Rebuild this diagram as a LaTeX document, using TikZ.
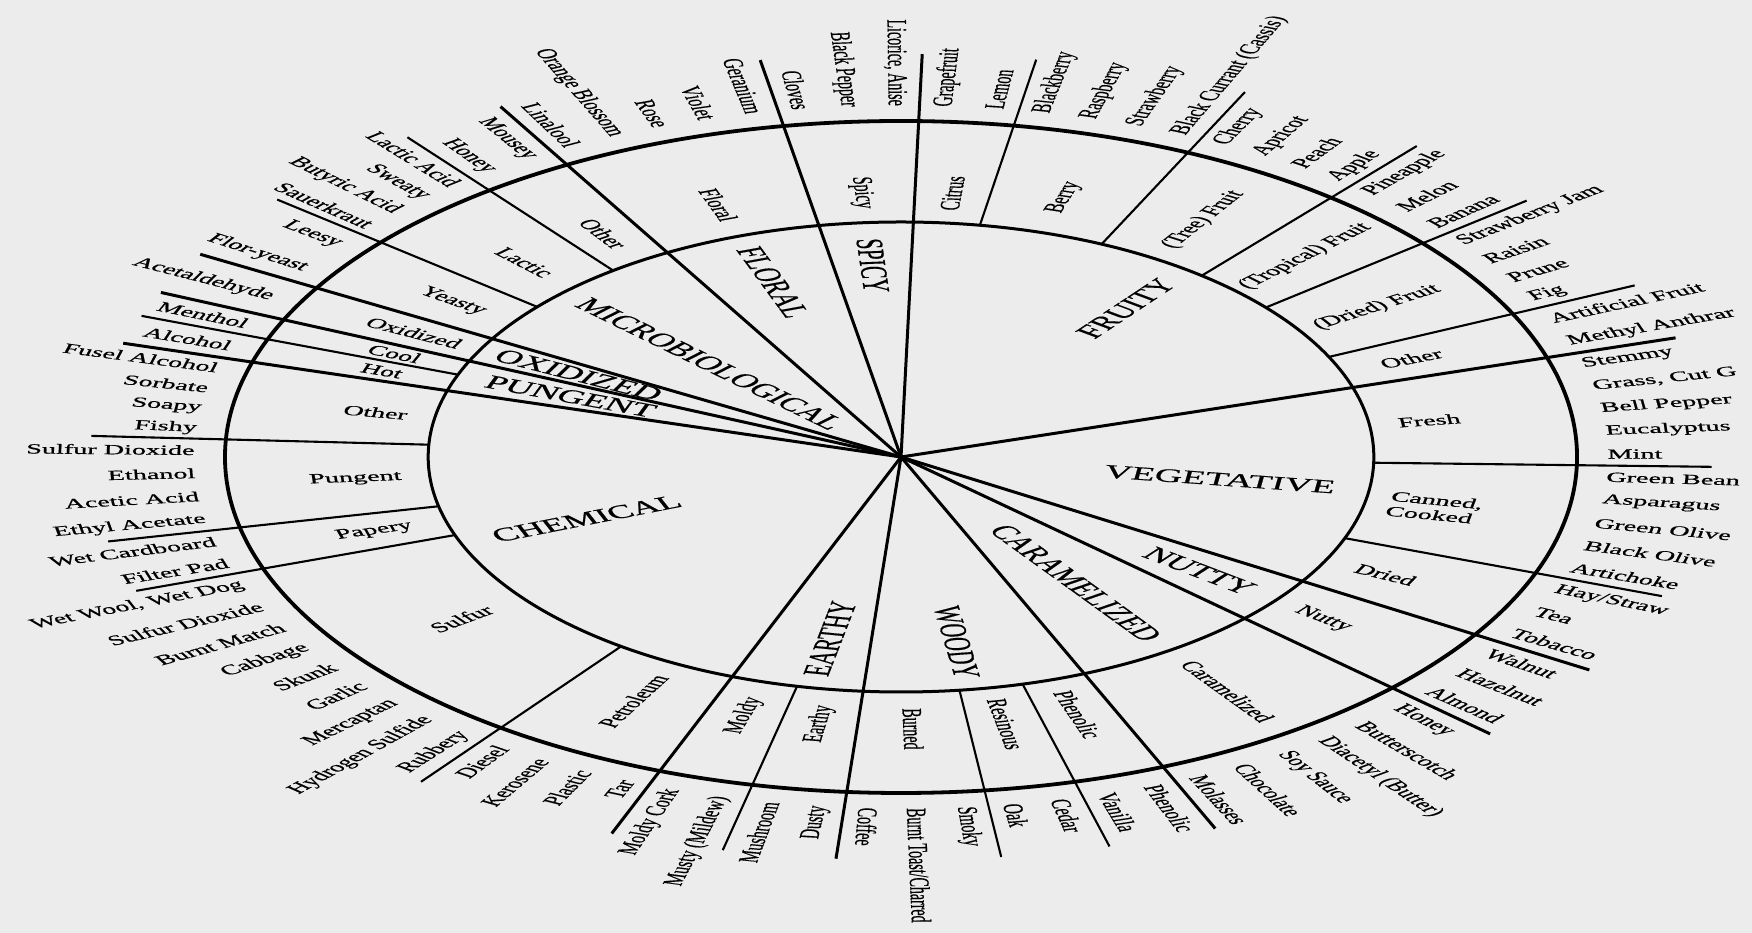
\documentclass[tikz,border=0pt]{standalone}
\usepackage{fontspec}
\setmainfont{Liberation Serif}[FakeBold=0.6]
\definecolor{bg}{RGB}{236,236,236}
\newcount\labc
\tikzset{
  olab/.style={inner sep=0pt, font=\fontsize{14}{15}\selectfont},
  mlab/.style={inner sep=0pt, font=\fontsize{14}{15}\selectfont, align=left},
  clab/.style={inner sep=0pt, font=\fontsize{19}{20}\selectfont},
  ring/.style={line width=3.8pt},
  midring/.style={line width=3pt},
  spoke/.style={line width=3pt},
  tierline/.style={line width=2.1pt}
}
\newcommand\outerset[3]{%
  \pgfmathsetmacro\secw{(#2)-(#1)}%
  \foreach \t [count=\i] in {#3} {\xdef\nlab{\i}}%
  \foreach \t [count=\i] in {#3} {%
    \global\advance\labc by 1
    \edef\nm{L\the\labc}%
    \pgfmathsetmacro\ang{#1+(\i-0.5)*\secw/\nlab}%
    \pgfmathtruncatemacro\inw{and(\ang>88.5,\ang<265.4)}%
    \ifnum\inw=1
      \node[olab,anchor=east,rotate=\ang+180] (\nm) at (\ang:351) {\t};
    \else
      \node[olab,anchor=west,rotate=\ang] (\nm) at (\ang:351) {\t};
    \fi
  }%
}
\newcommand\midlab[4]{%
  \global\advance\labc by 1
  \edef\nm{M\the\labc}%
  \pgfmathsetmacro\ang{((#1)+(#2))/2}%
  \pgfmathtruncatemacro\inw{and(\ang>88.5,\ang<265.4)}%
  \ifnum\inw=1
    \node[mlab,rotate=\ang+180] (\nm) at (\ang:#3) {#4};
  \else
    \node[mlab,rotate=\ang] (\nm) at (\ang:#3) {#4};
  \fi
}
\newcommand\catlab[3]{%
  \global\advance\labc by 1
  \edef\nm{C\the\labc}%
  \pgfmathsetmacro\ang{#1}%
  \pgfmathtruncatemacro\inw{and(\ang>88.5,\ang<265.4)}%
  \ifnum\inw=1
    \node[clab,rotate=\ang+180] (\nm) at (\ang:#2) {#3};
  \else
    \node[clab,rotate=\ang] (\nm) at (\ang:#2) {#3};
  \fi
}
\begin{document}
\begin{tikzpicture}[x=1pt,y=1pt]
\fill[bg] (0,0) rectangle (1752,933);
\useasboundingbox (0,0) rectangle (1752,933);
\begin{scope}[shift={(901,476)},xscale=2.012,transform shape]
  \coordinate (ctr) at (0,0);
  % rings
  \draw[ring] (ctr) circle (336);
  \draw[midring] (ctr) circle (235);
  % category spokes
  \foreach \a in {17.2,88.5,100,119.6,149.8,155.9,163.6,249.1,265.4,292.8,316.6,328.1}
    \draw[spoke] (ctr) -- (\a:403);
  % sub-category dividers
  \foreach \a in {25.2,39.5,50.5,64.9,80.4,127.5,140.3,159.5,177,192.1,199.4,233.7,257.3,277.1,284.9,339.8,358.6}
    \draw[tierline] (\a:235) -- (\a:403);
  % category labels
  \catlab{53}{186}{FRUITY}
  \catlab{-8}{160}{VEGETATIVE}
  \catlab{322.5}{187}{NUTTY}
  \catlab{304.6}{153}{CARAMELIZED}
  \catlab{278.5}{187}{WOODY}
  \catlab{259}{185}{EARTHY}
  \catlab{201.5}{168}{CHEMICAL}
  \catlab{159.75}{175}{PUNGENT}
  \catlab{152.85}{180}{OXIDIZED}
  \catlab{135.5}{133}{MICROBIOLOGICAL}
  \catlab{110}{186}{FLORAL}
  \catlab{94.2}{192}{SPICY}
  % second tier labels
  \midlab{17.2}{25.2}{272}{Other}
  \midlab{25.2}{39.5}{280}{(Dried) Fruit}
  \midlab{39.5}{50.5}{284}{(Tropical) Fruit}
  \midlab{50.5}{64.9}{281}{(Tree) Fruit}
  \midlab{64.9}{80.4}{272}{Berry}
  \midlab{80.4}{88.5}{265}{Citrus}
  \midlab{88.5}{100}{265}{Spicy}
  \midlab{100}{119.6}{268}{Floral}
  \midlab{119.6}{127.5}{268}{Other}
  \midlab{127.5}{140.3}{270}{Lactic}
  \midlab{140.3}{149.8}{272}{Yeasty}
  \midlab{149.8}{155.9}{272}{Oxidized}
  \midlab{155.9}{159.5}{272}{Cool}
  \midlab{159.5}{163.6}{272}{Hot}
  \midlab{163.6}{177}{265}{Other}
  \midlab{177}{192.1}{272}{Pungent}
  \midlab{192.1}{199.4}{272}{Papery}
  \midlab{199.4}{233.7}{272}{Sulfur}
  \midlab{233.7}{249.1}{278}{Petroleum}
  \midlab{249.1}{257.3}{270}{Moldy}
  \midlab{257.3}{265.4}{270}{Earthy}
  \midlab{265.4}{277.1}{272}{Burned}
  \midlab{277.1}{284.9}{272}{Resinous}
  \midlab{284.9}{292.8}{272}{Phenolic}
  \midlab{292.8}{316.6}{285}{Caramelized}
  \midlab{316.6}{328.1}{265}{Nutty}
  \midlab{328.1}{339.8}{268}{Dried}
  \midlab{339.8}{358.6}{270}{Canned,\\Cooked}
  \midlab{358.6}{377.2}{265}{Fresh}
  % outer labels
  \outerset{358.6}{377.2}{Mint,Eucalyptus,Bell Pepper,{Grass, Cut G},Stemmy}
  \outerset{17.2}{25.2}{Methyl Anthrar,Artificial Fruit}
  \outerset{25.2}{39.5}{Fig,Prune,Raisin,Strawberry Jam}
  \outerset{39.5}{50.5}{Banana,Melon,Pineapple}
  \outerset{50.5}{64.9}{Apple,Peach,Apricot,Cherry}
  \outerset{64.9}{80.4}{Black Currant (Cassis),Strawberry,Raspberry,Blackberry}
  \outerset{80.4}{88.5}{Lemon,Grapefruit}
  \outerset{88.5}{100}{{Licorice, Anise},Black Pepper,Cloves}
  \outerset{100}{119.6}{Geranium,Violet,Rose,Orange Blossom,Linalool}
  \outerset{119.6}{127.5}{Mousey,Honey}
  \outerset{127.5}{140.3}{Lactic Acid,Sweaty,Butyric Acid,Sauerkraut}
  \outerset{140.3}{149.8}{Leesy,Flor-yeast}
  \outerset{149.8}{155.9}{Acetaldehyde}
  \outerset{155.9}{159.5}{Menthol}
  \outerset{159.5}{163.6}{Alcohol}
  \outerset{163.6}{177}{Fusel Alcohol,Sorbate,Soapy,Fishy}
  \outerset{177}{192.1}{Sulfur Dioxide,Ethanol,Acetic Acid,Ethyl Acetate}
  \outerset{192.1}{199.4}{Wet Cardboard,Filter Pad}
  \outerset{199.4}{233.7}{{Wet Wool, Wet Dog},Sulfur Dioxide,Burnt Match,Cabbage,Skunk,Garlic,Mercaptan,Hydrogen Sulfide,Rubbery}
  \outerset{233.7}{249.1}{Diesel,Kerosene,Plastic,Tar}
  \outerset{249.1}{257.3}{Moldy Cork,Musty (Mildew)}
  \outerset{257.3}{265.4}{Mushroom,Dusty}
  \outerset{265.4}{277.1}{Coffee,{Burnt Toast/Charred},Smoky}
  \outerset{277.1}{284.9}{Oak,Cedar}
  \outerset{284.9}{292.8}{Vanilla,Phenolic}
  \outerset{292.8}{316.6}{Molasses,Chocolate,Soy Sauce,Diacetyl (Butter),Butterscotch,Honey}
  \outerset{316.6}{328.1}{Almond,Hazelnut,Walnut}
  \outerset{328.1}{339.8}{Tobacco,Tea,{Hay/Straw}}
  \outerset{339.8}{358.6}{Artichoke,Black Olive,Green Olive,Asparagus,Green Bean}
\end{scope}
\end{tikzpicture}
\end{document}
